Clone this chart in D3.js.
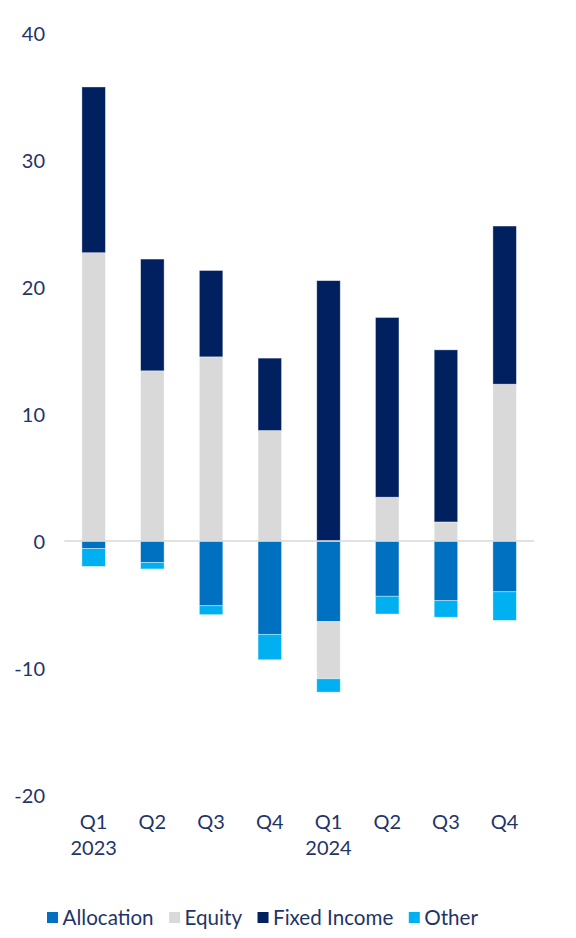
<!DOCTYPE html>
<html>
<head>
<meta charset="utf-8">
<script src="https://cdn.jsdelivr.net/npm/d3@7"></script>
<style>
  html, body { margin: 0; padding: 0; background: #fff; }
  svg { display: block; }
  text { font-family: Lato, "DejaVu Sans", sans-serif; fill: #1f3468; }
</style>
</head>
<body>
<svg id="chart" width="576" height="938"></svg>
<script>
const quarters = ["Q1", "Q2", "Q3", "Q4", "Q1", "Q2", "Q3", "Q4"];
const years = ["2023", "", "", "", "2024", "", "", ""];
const seriesNames = ["Allocation", "Equity", "Fixed Income", "Other"];
const allocation = [-0.6, -1.7, -5.1, -7.35, -6.35, -4.35, -4.7, -4.0];
const equity = [22.7, 13.4, 14.5, 8.7, -4.5, 3.45, 1.5, 12.35];
const fixedIncome = [13.05, 8.8, 6.8, 5.7, 20.5, 14.15, 13.55, 12.45];
const other = [-1.4, -0.5, -0.7, -2.0, -1.05, -1.4, -1.3, -2.25];
const yTicks = [-20, -10, 0, 10, 20, 30, 40];
const colors = ["#0070c0", "#d9d9d9", "#002060", "#00b0f0"];

const seriesValues = [allocation, equity, fixedIncome, other];
const table = quarters.map((q, i) => {
  const row = { idx: i };
  seriesNames.forEach((s, k) => row[s] = seriesValues[k][i]);
  return row;
});

const svg = d3.select("#chart");
const x = d3.scaleBand().domain(d3.range(quarters.length)).range([64.3, 534]).paddingInner(0.6).paddingOuter(0.3);
const y = d3.scaleLinear().domain([-20, 40]).range([795, 33]);

const stacked = d3.stack().keys(seriesNames).offset(d3.stackOffsetDiverging)(table);

svg.append("g").selectAll("g").data(stacked).join("g")
  .attr("fill", (d, i) => colors[i])
  .selectAll("rect").data(d => d).join("rect")
  .attr("x", d => x(d.data.idx))
  .attr("width", x.bandwidth())
  .attr("y", d => y(Math.max(d[0], d[1])))
  .attr("height", d => Math.abs(y(d[0]) - y(d[1])))
  .attr("stroke", "#ffffff")
  .attr("stroke-opacity", 0.5)
  .attr("stroke-width", 0.75);

// zero line
svg.append("line")
  .attr("x1", x.range()[0]).attr("x2", x.range()[1])
  .attr("y1", y(0)).attr("y2", y(0))
  .attr("stroke", "#d9d9d9").attr("stroke-width", 1.5);

// y axis labels
const yAxis = d3.axisLeft(y).tickValues(yTicks).tickFormat(d => String(d)).tickSize(0).tickPadding(0);
const yg = svg.append("g").attr("transform", "translate(45,0)").call(yAxis);
yg.select(".domain").remove();
yg.selectAll("text").style("font-size", "20px").attr("fill", "#1f3468")
  .style("font-family", "Lato, 'DejaVu Sans', sans-serif").attr("dy", "0.35em");

// x axis labels
const xAxis = d3.axisBottom(x).tickFormat(i => quarters[i]).tickSize(0).tickPadding(0);
const xg = svg.append("g").attr("transform", "translate(0,812)").call(xAxis);
xg.select(".domain").remove();
xg.selectAll("text").style("font-size", "20px").attr("fill", "#1f3468")
  .style("font-family", "Lato, 'DejaVu Sans', sans-serif").attr("dy", "0.35em").attr("y", 10);
xg.selectAll(".tick").append("text")
  .text(i => years[i])
  .attr("text-anchor", "middle")
  .attr("y", 36).attr("dy", "0.35em")
  .style("font-size", "20px").attr("fill", "#1f3468")
  .style("font-family", "Lato, 'DejaVu Sans', sans-serif");

// legend
const legend = svg.append("g");
let cx = 0;
seriesNames.forEach((name, i) => {
  const g = legend.append("g").attr("transform", `translate(${cx},0)`);
  g.append("rect").attr("x", 0).attr("y", -6).attr("width", 11).attr("height", 11).attr("fill", colors[i]);
  const t = g.append("text").attr("x", 15.5).attr("y", 0).attr("dy", "0.35em")
    .style("font-size", "20.6px").text(name);
  cx += 15.5 + t.node().getComputedTextLength() + 15.5;
});
const totalW = cx - 15.5;
legend.attr("transform", `translate(${262.5 - totalW / 2},918)`);
</script>
</body>
</html>
